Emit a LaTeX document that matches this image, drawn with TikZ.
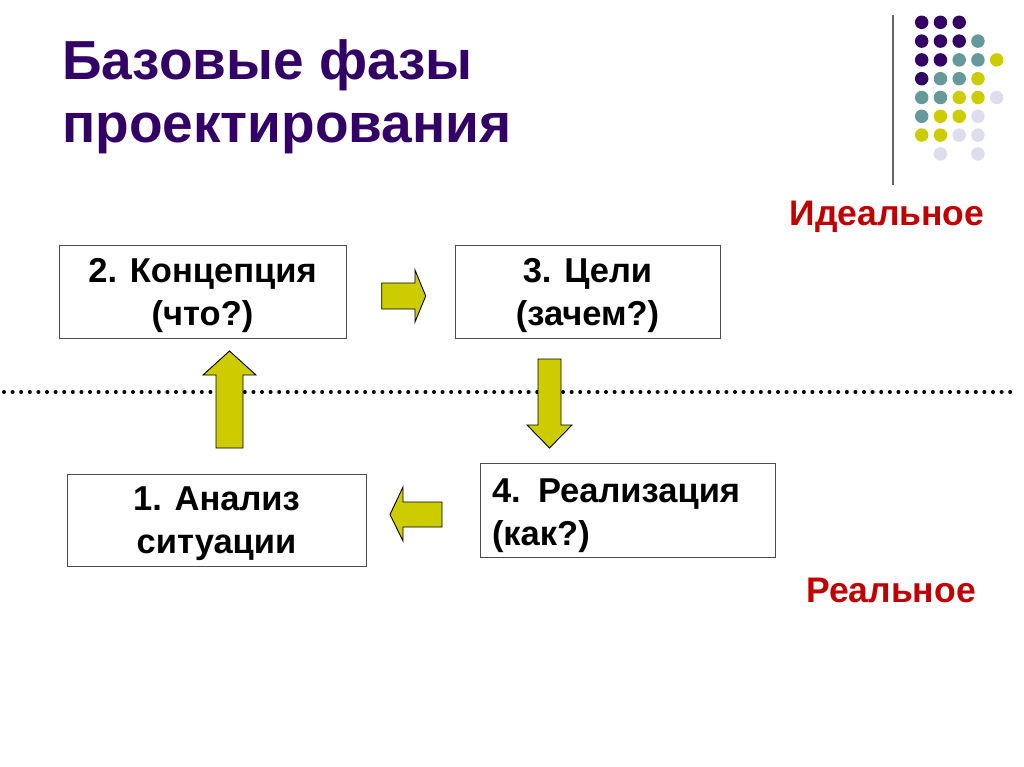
\documentclass[tikz,border=0pt]{standalone}
\usepackage{fontspec}
\setmainfont{Liberation Sans}
\definecolor{ttl}{HTML}{330066}
\definecolor{dpurple}{HTML}{330066}
\definecolor{dteal}{HTML}{669999}
\definecolor{dyellow}{HTML}{CCCC00}
\definecolor{dlav}{HTML}{DDDDEE}
\definecolor{lblred}{HTML}{C00000}
\definecolor{arrfill}{HTML}{CCCC00}
\tikzset{
  box/.style={draw=black!70, line width=1pt, inner sep=0pt},
  boxtext/.style={inner sep=0pt, font=\fontsize{34.5}{43}\selectfont\bfseries, align=center},
  blockarrow/.style={draw=black, line width=0.9pt, fill=arrfill, line join=miter},
  gdot/.style={circle, inner sep=0pt, minimum size=13.5pt},
  lbl/.style={text=lblred, font=\fontsize{35.5}{40}\selectfont\bfseries},
  ttlstyle/.style={text=ttl, font=\fontsize{55}{65}\selectfont\bfseries, inner sep=0pt}
}
\begin{document}
\begin{tikzpicture}[x=1pt,y=-1pt]
\useasboundingbox (0,0) rectangle (1024,767);
\fill[white] (0,0) rectangle (1024,767);
% title
\node[ttlstyle, anchor=base west] (t1) at (62,80) {Базовые фазы};
\node[ttlstyle, anchor=base west] (t2) at (62,143) {проектирования};
% decorative line and dots
\draw[black!60, line width=1.5pt] (893,15) -- (893,185);
\foreach \k/\r/\col in {
  0/0/dpurple,1/0/dpurple,2/0/dpurple,
  0/1/dpurple,1/1/dpurple,2/1/dpurple,3/1/dteal,
  0/2/dpurple,1/2/dpurple,2/2/dteal,3/2/dteal,4/2/dyellow,
  0/3/dpurple,1/3/dteal,2/3/dteal,3/3/dyellow,
  0/4/dteal,1/4/dteal,2/4/dyellow,3/4/dyellow,4/4/dlav,
  0/5/dteal,1/5/dyellow,2/5/dyellow,3/5/dlav,
  0/6/dyellow,1/6/dyellow,2/6/dlav,3/6/dlav,
  1/7/dlav,3/7/dlav}{
  \node[gdot, fill=\col] (d\r\k) at ({921.7+\k*18.75},{22.3+\r*18.8}) {};
}
% dotted separator
\draw[line width=4pt, line cap=round, dash pattern=on 0pt off 8.6pt] (4,392) -- (1016,392);
% boxes
\node[box, minimum width=287pt, minimum height=93pt] (b2) at (202.5,291.5) {};
\node[boxtext] (b2t) at ([yshift=-4pt]b2.center) {2. Концепция\\(что?)};
\node[box, minimum width=265pt, minimum height=93pt] (b3) at (587.5,291.5) {};
\node[boxtext] (b3t) at ([yshift=-4pt]b3.center) {3. Цели\\(зачем?)};
\node[box, minimum width=299pt, minimum height=92pt] (b1) at (216.5,520) {};
\node[boxtext] (b1t) at ([yshift=-4pt]b1.center) {1. Анализ\\ситуации};
\node[box, minimum width=295pt, minimum height=94pt] (b4) at (627.5,510) {};
\node[boxtext, align=left, text width=271pt] (b4t) at ([yshift=-6pt]b4.center) {4. Реализация\\(как?)};
% block arrows
\draw[blockarrow] (381.7,283) -- (415,283) -- (415,270) -- (425.7,296) -- (415,322) -- (415,309) -- (381.7,309) -- cycle;
\draw[blockarrow] (216,448) -- (216,375) -- (203,375) -- (229.5,351) -- (256,375) -- (243,375) -- (243,448) -- cycle;
\draw[blockarrow] (538,359) -- (561,359) -- (561,425) -- (572,425) -- (549.5,448) -- (527,425) -- (538,425) -- cycle;
\draw[blockarrow] (442,502) -- (403,502) -- (403,487) -- (390,514.5) -- (403,541) -- (403,527) -- (442,527) -- cycle;
% labels
\node[lbl] (ideal) at (887,217) {Идеальное};
\node[lbl] (real) at (891,590) {Реальное};
\end{tikzpicture}
\end{document}
